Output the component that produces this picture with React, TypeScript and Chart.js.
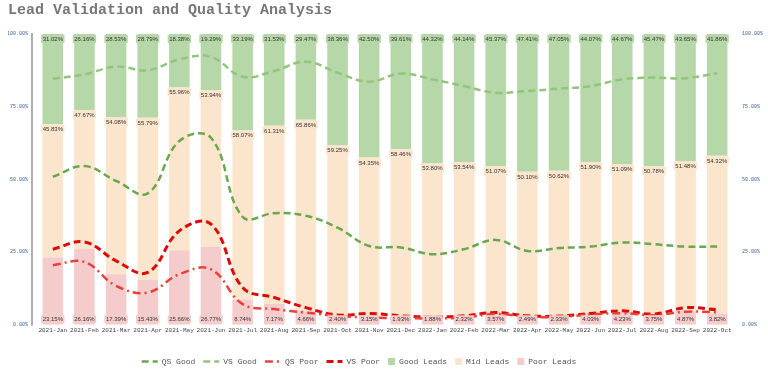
import React, { useEffect, useRef } from 'react';
import { Chart, registerables } from 'chart.js';

Chart.register(...registerables);

const categories = [
  '2021-Jan', '2021-Feb', '2021-Mar', '2021-Apr', '2021-May', '2021-Jun', '2021-Jul', '2021-Aug',
  '2021-Sep', '2021-Oct', '2021-Nov', '2021-Dec', '2022-Jan', '2022-Feb', '2022-Mar', '2022-Apr',
  '2022-May', '2022-Jun', '2022-Jul', '2022-Aug', '2022-Sep', '2022-Oct',
];

const goodLeads = [31.02, 26.16, 28.53, 28.79, 18.38, 19.29, 33.19, 31.53, 29.47, 38.36, 42.50, 39.61, 44.32, 44.14, 45.37, 47.41, 47.05, 44.07, 44.67, 45.47, 43.65, 41.86];
const midLeads = [45.83, 47.67, 54.08, 55.79, 55.96, 53.94, 58.07, 61.31, 65.86, 59.25, 54.35, 58.46, 53.80, 53.54, 51.07, 50.10, 50.62, 51.90, 51.09, 50.78, 51.48, 54.32];
const poorLeads = [23.15, 26.16, 17.39, 15.43, 25.66, 26.77, 8.74, 7.17, 4.66, 2.40, 3.15, 1.93, 1.88, 2.32, 3.57, 2.49, 2.33, 4.03, 4.23, 3.75, 4.87, 3.82];

const qsGood = [50.9, 54.6, 49.5, 45.2, 63.2, 64.3, 37.1, 38.4, 37.5, 33.4, 27.1, 26.6, 24.3, 26.0, 29.2, 25.4, 26.4, 26.9, 28.3, 27.7, 26.9, 26.9];
const vsGood = [84.6, 86.1, 88.8, 87.5, 91.3, 92.1, 85.3, 87.3, 90.5, 86.7, 83.6, 86.4, 84.4, 82.1, 79.8, 80.4, 81.2, 82.1, 84.4, 85.0, 84.8, 86.5];
const qsPoor = [20.5, 21.6, 13.4, 11.1, 17.4, 19.1, 7.1, 5.4, 4.2, 3.1, 2.5, 2.3, 2.2, 2.5, 3.7, 2.8, 2.7, 3.5, 4.0, 3.3, 4.5, 4.3];
const vsPoor = [26.0, 28.5, 22.0, 18.0, 32.3, 34.6, 12.8, 9.4, 5.9, 3.4, 3.9, 3.1, 2.7, 3.1, 4.2, 3.1, 3.0, 3.9, 4.8, 3.7, 5.9, 5.2];

const yTickValues = [0, 25, 50, 75, 100];
const legendOrder = ['QS Good', 'VS Good', 'QS Poor', 'VS Poor', 'Good Leads', 'Mid Leads', 'Poor Leads'];

const fmtPct = (v: number) => v.toFixed(2) + '%';

const segLabelPlugin = {
  id: 'segLabels',
  afterDatasetsDraw(chart: any) {
    const ctx = chart.ctx;
    ctx.save();
    ctx.font = '6px "Liberation Sans", Arial, sans-serif';
    ctx.textAlign = 'center';
    ctx.textBaseline = 'middle';
    chart.data.datasets.forEach((ds: any, i: number) => {
      if (ds.type !== 'bar') return;
      const meta = chart.getDatasetMeta(i);
      meta.data.forEach((bar: any, j: number) => {
        const v = ds.data[j];
        const txt = fmtPct(v);
        const p = bar.getProps(['x', 'y', 'base'], true);
        const top = Math.min(p.y, p.base);
        const bottom = Math.max(p.y, p.base);
        const ty = ds.labelPos === 'bottom' ? bottom - 5.5 : top + 4.8;
        const w = ctx.measureText(txt).width + 3;
        ctx.fillStyle = ds.backgroundColor;
        ctx.fillRect(p.x - w / 2, ty - 4, w, 8);
        ctx.fillStyle = '#333';
        ctx.fillText(txt, p.x, ty + 0.5);
      });
    });
    ctx.restore();
  },
};

const axisLinePlugin = {
  id: 'axisLine',
  afterDraw(chart: any) {
    const { ctx, chartArea } = chart;
    ctx.save();
    ctx.strokeStyle = '#b0b0b0';
    ctx.lineWidth = 2;
    ctx.beginPath();
    ctx.moveTo(chartArea.left - 5, chartArea.top - 1);
    ctx.lineTo(chartArea.left - 5, chartArea.bottom + 1);
    ctx.stroke();
    ctx.restore();
  },
};

const customLegendPlugin = {
  id: 'customLegend',
  afterDraw(chart: any) {
    const ctx = chart.ctx;
    const items = legendOrder.map((name) => chart.data.datasets.find((d: any) => d.label === name));
    ctx.save();
    ctx.font = '8px "Liberation Mono", monospace';
    ctx.textBaseline = 'middle';
    const lineW = 16, boxW = 7, gapIcon = 4, gapItem = 8;
    let total = 0;
    items.forEach((d: any, k: number) => {
      total += (d.type === 'line' ? lineW : boxW) + gapIcon + ctx.measureText(d.label).width + (k < items.length - 1 ? gapItem : 0);
    });
    const cx = (chart.chartArea.left + chart.chartArea.right) / 2 - 26;
    let x = cx - total / 2;
    const y = chart.height - 9.5;
    items.forEach((d: any) => {
      if (d.type === 'line') {
        ctx.strokeStyle = d.borderColor;
        ctx.lineWidth = d.borderWidth;
        ctx.setLineDash(d.borderDash || []);
        ctx.beginPath();
        ctx.moveTo(x, y);
        ctx.lineTo(x + lineW, y);
        ctx.stroke();
        ctx.setLineDash([]);
        x += lineW;
      } else {
        ctx.fillStyle = d.backgroundColor;
        ctx.fillRect(x, y - boxW / 2, boxW, boxW);
        x += boxW;
      }
      x += gapIcon;
      ctx.fillStyle = '#555';
      ctx.fillText(d.label, x, y + 0.5);
      x += ctx.measureText(d.label).width + gapItem;
    });
    ctx.restore();
  },
};

export default function App() {
  const ref = useRef<HTMLCanvasElement | null>(null);

  useEffect(() => {
    if (!ref.current) return;
    const tickFont = { family: '"Liberation Mono", monospace', size: 5 };
    const chart = new Chart(ref.current, {
      type: 'bar',
      data: {
        labels: categories,
        datasets: [
          { type: 'line', label: 'QS Good', data: qsGood, borderColor: '#6aa84f', backgroundColor: '#6aa84f', borderWidth: 2.5, borderDash: [7, 4], pointRadius: 0, tension: 0.4, yAxisID: 'y1', order: 0 },
          { type: 'line', label: 'VS Good', data: vsGood, borderColor: '#93c47d', backgroundColor: '#93c47d', borderWidth: 2.5, borderDash: [7, 4], pointRadius: 0, tension: 0.4, yAxisID: 'y1', order: 0 },
          { type: 'line', label: 'QS Poor', data: qsPoor, borderColor: '#e8413a', backgroundColor: '#e8413a', borderWidth: 2.5, borderDash: [8, 4, 2, 4], pointRadius: 0, tension: 0.4, yAxisID: 'y1', order: 0 },
          { type: 'line', label: 'VS Poor', data: vsPoor, borderColor: '#dd0a0a', backgroundColor: '#dd0a0a', borderWidth: 3, borderDash: [7, 4], pointRadius: 0, tension: 0.4, yAxisID: 'y1', order: 0 },
          { type: 'bar', label: 'Poor Leads', data: poorLeads, backgroundColor: '#f4cccc', labelPos: 'bottom', yAxisID: 'y', order: 1 } as any,
          { type: 'bar', label: 'Mid Leads', data: midLeads, backgroundColor: '#fce5cd', labelPos: 'top', yAxisID: 'y', order: 1 } as any,
          { type: 'bar', label: 'Good Leads', data: goodLeads, backgroundColor: '#b6d7a8', labelPos: 'top', yAxisID: 'y', order: 1 } as any,
        ],
      },
      options: {
        animation: false,
        responsive: true,
        maintainAspectRatio: false,
        layout: { padding: { left: 8, right: 5, top: 0, bottom: 35 } },
        datasets: { bar: { categoryPercentage: 1, barPercentage: 0.65 } },
        plugins: {
          legend: { display: false },
          tooltip: { enabled: false },
          title: {
            display: true,
            text: 'Lead Validation and Quality Analysis',
            align: 'start',
            color: '#777777',
            font: { family: '"Liberation Mono", monospace', size: 15, weight: 'bold' },
            padding: { top: 1, bottom: 15 },
          },
        },
        scales: {
          x: {
            stacked: true,
            grid: { display: false, drawTicks: false },
            border: { display: false },
            ticks: { color: '#444', font: { family: '"Liberation Mono", monospace', size: 6 }, padding: 2, maxRotation: 0, autoSkip: false },
          },
          y: {
            stacked: true,
            min: 0,
            max: 100,
            position: 'left',
            grid: { display: false, drawTicks: false },
            border: { display: false },
            afterBuildTicks: (s: any) => { s.ticks = yTickValues.map((v) => ({ value: v })); },
            afterFit: (s: any) => { s.width = 29; },
            ticks: { color: '#3f6396', font: tickFont, padding: 9, callback: (v: any) => fmtPct(Number(v)) },
          },
          y1: {
            stacked: false,
            min: 0,
            max: 100,
            position: 'right',
            grid: { display: false, drawTicks: false },
            border: { display: false },
            afterBuildTicks: (s: any) => { s.ticks = yTickValues.map((v) => ({ value: v })); },
            afterFit: (s: any) => { s.width = 30; },
            ticks: { color: '#3f6396', font: tickFont, padding: 9, callback: (v: any) => fmtPct(Number(v)) },
          },
        },
      },
      plugins: [segLabelPlugin, axisLinePlugin, customLegendPlugin],
    } as any);
    return () => chart.destroy();
  }, []);

  return (
    <div style={{ position: 'absolute', left: 0, top: 0, width: 768, height: 371, background: '#fff' }}>
      <canvas ref={ref} />
    </div>
  );
}
